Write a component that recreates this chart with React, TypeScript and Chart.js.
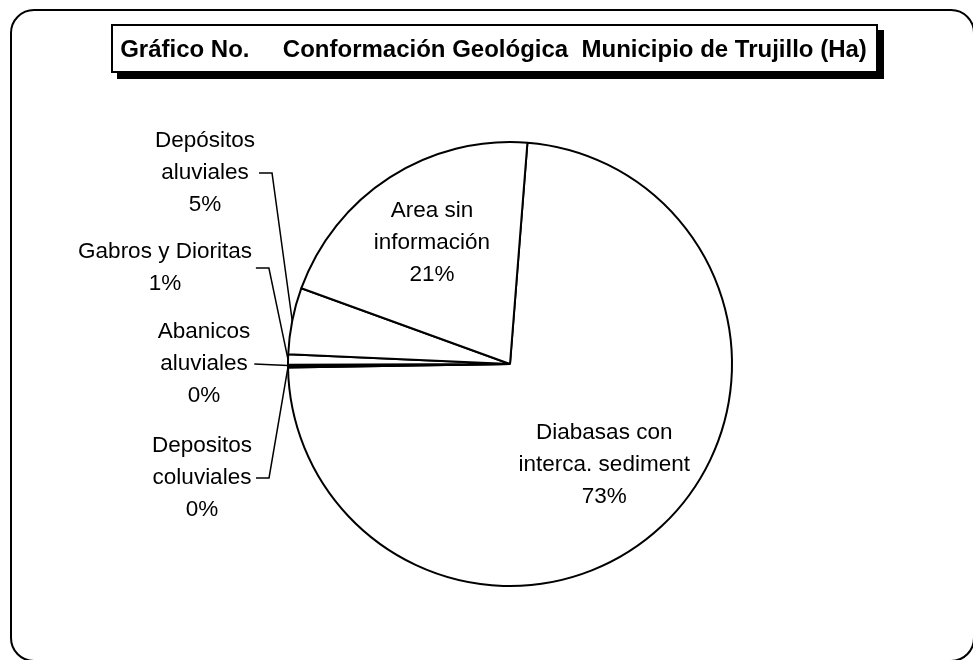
import React, { useEffect, useRef } from 'react';
import { Chart, registerables } from 'chart.js';

Chart.register(...registerables);

const TITLE = 'Gráfico No.     Conformación Geológica  Municipio de Trujillo (Ha)';

const categories = [
  'Diabasas con\ninterca. sediment',
  'Depositos\ncoluviales',
  'Abanicos\naluviales',
  'Gabros y Dioritas',
  'Depósitos\naluviales',
  'Area sin\ninformación',
];

const hectares = [44830, 60, 60, 460, 2960, 12630];

// label placement: inside = fraction of radius along slice mid-angle,
// otherwise block centre offset from the pie's left edge / centre
const labelLayout: any[] = [
  { inside: 0.62 },
  { dx: -86, dy: 114 },
  { dx: -84, dy: 0 },
  { dx: -123, dy: -96 },
  { dx: -83, dy: -191 },
  { inside: 0.65 },
];

const FONT = '"Liberation Sans", Arial, sans-serif';
const LINE_H = 32;

const decorPlugin = {
  id: 'decor',
  beforeDraw(chart: any) {
    const ctx: CanvasRenderingContext2D = chart.ctx;
    ctx.save();
    ctx.fillStyle = '#ffffff';
    ctx.fillRect(0, 0, chart.width, chart.height);
    // outer rounded frame
    const x0 = 11, y0 = 10, x1 = 974, y1 = 661, r = 23;
    ctx.beginPath();
    ctx.moveTo(x0 + r, y0);
    ctx.lineTo(x1 - r, y0);
    ctx.arcTo(x1, y0, x1, y0 + r, r);
    ctx.lineTo(x1, y1 - r);
    ctx.arcTo(x1, y1, x1 - r, y1, r);
    ctx.lineTo(x0 + r, y1);
    ctx.arcTo(x0, y1, x0, y1 - r, r);
    ctx.lineTo(x0, y0 + r);
    ctx.arcTo(x0, y0, x0 + r, y0, r);
    ctx.closePath();
    ctx.lineWidth = 2;
    ctx.strokeStyle = '#000';
    ctx.stroke();
    // title box with shadow
    const bx = 111, by = 24, bw = 767, bh = 49;
    ctx.fillStyle = '#000';
    ctx.fillRect(bx + 6, by + 6, bw, bh);
    ctx.fillStyle = '#fff';
    ctx.fillRect(bx, by, bw, bh);
    ctx.lineWidth = 2;
    ctx.strokeRect(bx + 1, by + 1, bw - 2, bh - 2);
    ctx.fillStyle = '#000';
    ctx.font = 'bold 24px ' + FONT;
    ctx.textAlign = 'center';
    ctx.textBaseline = 'middle';
    ctx.fillText(TITLE, bx + bw / 2 - 1, by + bh / 2 + 2);
    ctx.restore();
  },
  afterDatasetsDraw(chart: any) {
    const ctx: CanvasRenderingContext2D = chart.ctx;
    const meta = chart.getDatasetMeta(0);
    const data: number[] = chart.data.datasets[0].data;
    const total = data.reduce((a, b) => a + b, 0);
    ctx.save();
    ctx.font = '22.5px ' + FONT;
    ctx.fillStyle = '#000';
    ctx.strokeStyle = '#000';
    ctx.textAlign = 'center';
    ctx.textBaseline = 'middle';
    meta.data.forEach((arc: any, i: number) => {
      const lay = labelLayout[i];
      const cx = arc.x, cy = arc.y, R = arc.outerRadius;
      const mid = (arc.startAngle + arc.endAngle) / 2;
      const lines = String(chart.data.labels[i]).split('\n');
      lines.push(Math.round((data[i] / total) * 100) + '%');
      let bxc: number, byc: number;
      if (lay.inside !== undefined) {
        bxc = cx + Math.cos(mid) * R * lay.inside;
        byc = cy + Math.sin(mid) * R * lay.inside;
      } else {
        bxc = cx - R + lay.dx;
        byc = cy + lay.dy;
      }
      const n = lines.length;
      let maxW = 0;
      lines.forEach((t, k) => {
        maxW = Math.max(maxW, ctx.measureText(t).width);
        ctx.fillText(t, bxc, byc + (k - (n - 1) / 2) * LINE_H);
      });
      if (lay.inside === undefined) {
        const ax = cx + Math.cos(mid) * R;
        const ay = cy + Math.sin(mid) * R;
        const sx = bxc + maxW / 2 + 4;
        ctx.beginPath();
        ctx.lineWidth = 1.5;
        ctx.moveTo(sx, byc);
        if (Math.abs(ay - byc) > 2) ctx.lineTo(sx + 13, byc);
        ctx.lineTo(ax, ay);
        ctx.stroke();
      }
    });
    ctx.restore();
  },
};

export default function App() {
  const ref = useRef<HTMLCanvasElement>(null);
  useEffect(() => {
    if (!ref.current) return;
    const chart = new Chart(ref.current, {
      type: 'pie',
      data: {
        labels: categories,
        datasets: [
          {
            data: hectares,
            backgroundColor: '#ffffff',
            borderColor: '#000000',
            borderWidth: 2,
          },
        ],
      },
      options: {
        responsive: false,
        maintainAspectRatio: false,
        devicePixelRatio: 1,
        animation: false,
        rotation: 4.5,
        layout: { padding: { left: 287, right: 240, top: 141, bottom: 73 } },
        plugins: {
          legend: { display: false },
          title: { display: false },
          tooltip: { enabled: false },
        },
      },
      plugins: [decorPlugin],
    });
    return () => chart.destroy();
  }, []);
  return (
    <div style={{ position: 'fixed', left: 0, top: 0, width: 973, height: 660 }}>
      <canvas ref={ref} width={973} height={660} style={{ display: 'block' }} />
    </div>
  );
}
